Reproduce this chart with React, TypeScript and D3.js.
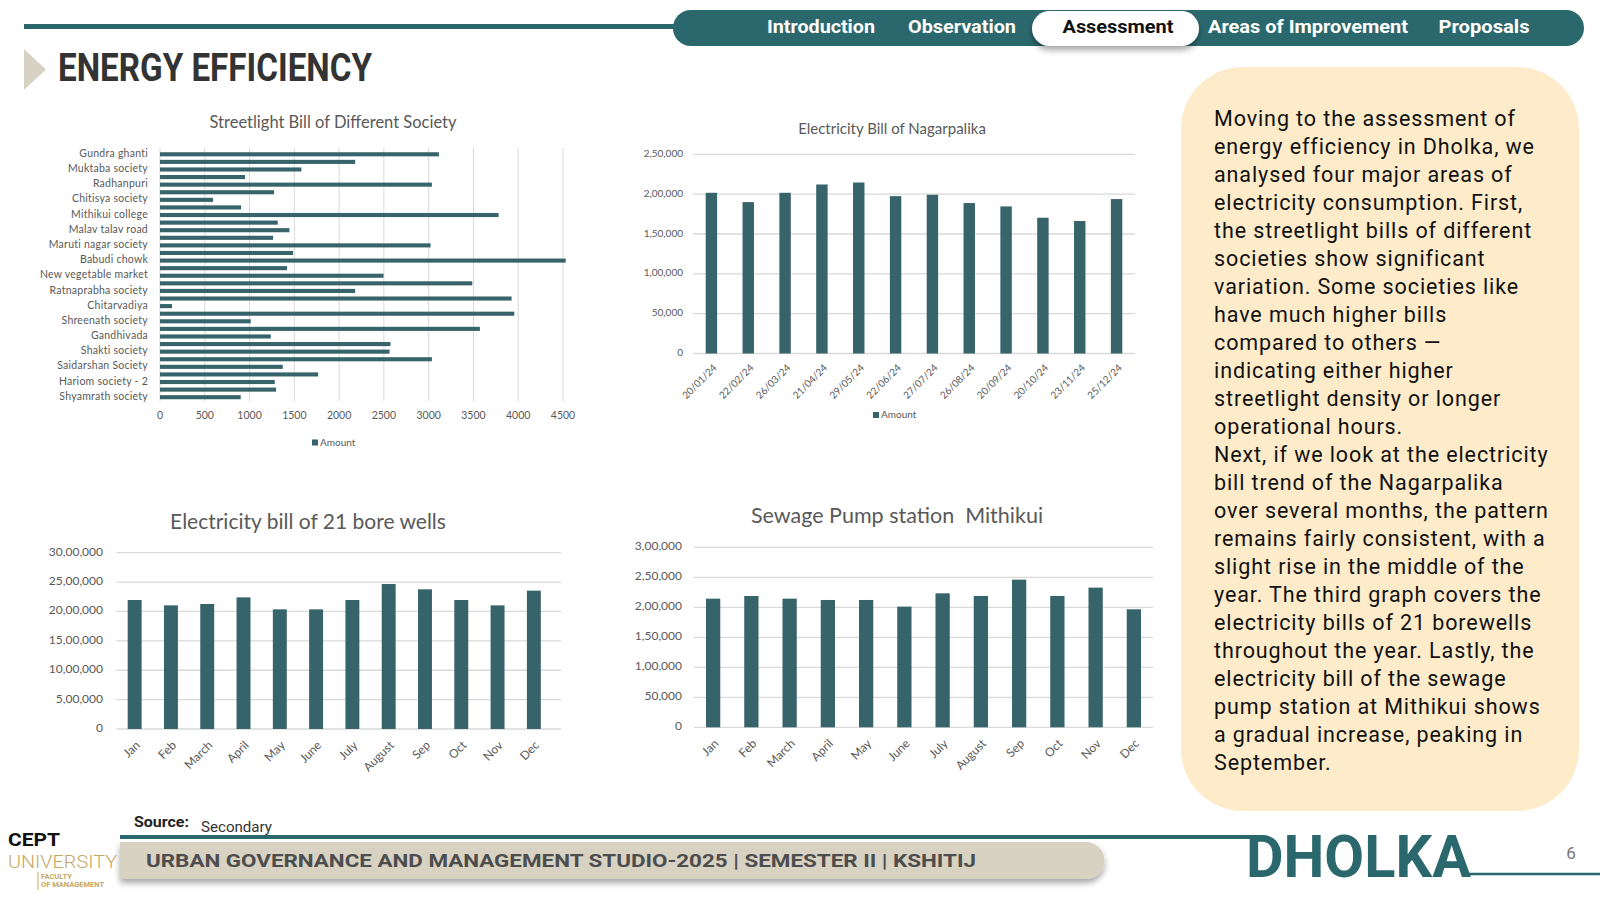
import * as d3 from "d3";
import React from "react";

// ---- data ----
const streetLabels = [
  "Gundra ghanti", "", "Muktaba society", "", "Radhanpuri", "", "Chitisya society", "",
  "Mithikui college", "", "Malav talav road", "", "Maruti nagar society", "", "Babudi chowk", "",
  "New vegetable market", "", "Ratnaprabha society", "", "Chitarvadiya", "", "Shreenath society", "",
  "Gandhivada", "", "Shakti society", "", "Saidarshan Society", "", "Hariom society - 2", "",
  "Shyamrath society",
];
const streetValues = [
  3114, 2179, 1579, 950, 3036, 1274, 592, 905, 3781, 1315, 1445, 1263, 3021, 1486, 4530, 1419,
  2496, 3487, 2179, 3926, 134, 3956, 1013, 3572, 1237, 2574, 2563, 3036, 1371, 1766, 1281, 1296, 901,
];
const streetTicks = [0, 500, 1000, 1500, 2000, 2500, 3000, 3500, 4000, 4500];

const nagarDates = [
  "20/01/24", "22/02/24", "26/03/24", "21/04/24", "29/05/24", "22/06/24",
  "27/07/24", "26/08/24", "20/09/24", "20/10/24", "23/11/24", "25/12/24",
];
const nagarValues = [201700, 190000, 201700, 212100, 214600, 197500, 199200, 188800, 184600, 170400, 166300, 193800];
const nagarTicks = [0, 50000, 100000, 150000, 200000, 250000];

const months = ["Jan", "Feb", "March", "April", "May", "June", "July", "August", "Sep", "Oct", "Nov", "Dec"];
const boreValues = [2195000, 2104000, 2127000, 2240000, 2036000, 2036000, 2195000, 2467000, 2377000, 2195000, 2104000, 2354000];
const boreTicks = [0, 500000, 1000000, 1500000, 2000000, 2500000, 3000000];

const sewageValues = [214400, 218900, 214400, 212200, 212200, 201100, 223300, 218900, 246100, 218900, 232800, 196700];
const sewageTicks = [0, 50000, 100000, 150000, 200000, 250000, 300000];

const navItems = ["Introduction", "Observation", "Assessment", "Areas of Improvement", "Proposals"];

const sideLines = [
  "Moving to the assessment of",
  "energy efficiency in Dholka, we",
  "analysed four major areas of",
  "electricity consumption. First,",
  "the streetlight bills of different",
  "societies show significant",
  "variation. Some societies like",
  "have much higher bills",
  "compared to others \u2014",
  "indicating either higher",
  "streetlight density or longer",
  "operational hours.",
  "Next, if we look at the electricity",
  "bill trend of the Nagarpalika",
  "over several months, the pattern",
  "remains fairly consistent, with a",
  "slight rise in the middle of the",
  "year. The third graph covers the",
  "electricity bills of 21 borewells",
  "throughout the year. Lastly, the",
  "electricity bill of the sewage",
  "pump station at Mithikui shows",
  "a gradual increase, peaking in",
  "September.",
];

const TEAL = "#2b686d";
const BAR = "#37646a";
const GRID = "#d9d9d9";
const TXT = "#595959";
const CHART_FONT = "Lato, 'Open Sans', sans-serif";

// indian digit grouping: 2,50,000 / 30,00,000
function fmtIN(v: number) {
  const s = Math.round(v).toString();
  if (s.length <= 3) return s;
  const rest = s.slice(0, -3).replace(/\B(?=(\d{2})+(?!\d))/g, ",");
  return rest + "," + s.slice(-3);
}

function StreetChart() {
  const x = d3.scaleLinear().domain([0, 4500]).range([160, 563]);
  const y = d3.scaleBand<number>().domain(d3.range(streetValues.length)).range([150.5, 401]).paddingInner(0.46).paddingOuter(0.23);
  return (
    <g fontFamily={CHART_FONT} fill={TXT}>
      <text x={333} y={123.5} fontSize={16.5} textAnchor="middle" dominantBaseline="middle">
        Streetlight Bill of Different Society
      </text>
      {streetTicks.map(t => (
        <g key={t}>
          <line x1={x(t)} x2={x(t)} y1={148} y2={401} stroke={GRID} strokeWidth={1} />
          <text x={x(t)} y={416} fontSize={10.5} textAnchor="middle" dominantBaseline="middle">{t}</text>
        </g>
      ))}
      {streetValues.map((v, i) => (
        <rect key={i} x={x(0)} y={y(i)} width={x(v) - x(0)} height={y.bandwidth()} fill={BAR} />
      ))}
      {streetLabels.map((l, i) => l ? (
        <text key={i} x={148} y={y(i)! + y.bandwidth() / 2} fontSize={10.5} letterSpacing={0.25} textAnchor="end" dominantBaseline="middle">{l}</text>
      ) : null)}
      <rect x={312} y={439.5} width={6} height={6} fill={BAR} />
      <text x={320} y={443} fontSize={10} dominantBaseline="middle">Amount</text>
    </g>
  );
}

function ColumnChart({
  title, titleX, titleY, titleSize, labels, values, ticks, x0, x1, gridX1, yBase, yTop, pad, tickRight, tickSize, labelSize, legendX, legendY,
}: {
  title: string; titleX: number; titleY: number; titleSize: number;
  labels: string[]; values: number[]; ticks: number[];
  x0: number; x1: number; gridX1: number; yBase: number; yTop: number; pad: number;
  tickRight: number; tickSize: number; labelSize: number; legendX?: number; legendY?: number;
}) {
  const x = d3.scaleBand<string>().domain(labels).range([x0, x1]).paddingInner(pad).paddingOuter(pad / 2);
  const y = d3.scaleLinear().domain([0, ticks[ticks.length - 1]]).range([yBase, yTop]);
  return (
    <g fontFamily={CHART_FONT} fill={TXT}>
      <text x={titleX} y={titleY} fontSize={titleSize} textAnchor="middle" dominantBaseline="middle"
        style={{ whiteSpace: "pre" }}>{title}</text>
      {ticks.map(t => (
        <g key={t}>
          <line x1={x0} x2={gridX1} y1={y(t)} y2={y(t)} stroke={GRID} strokeWidth={1.3} />
          <text x={tickRight} y={y(t)} fontSize={tickSize} textAnchor="end" dominantBaseline="middle">{fmtIN(t)}</text>
        </g>
      ))}
      {values.map((v, i) => (
        <rect key={i} x={x(labels[i])} y={y(v)} width={x.bandwidth()} height={y(0) - y(v)} fill={BAR} />
      ))}
      {labels.map(l => {
        const cx = x(l)! + x.bandwidth() / 2;
        return (
          <text key={l} fontSize={labelSize} textAnchor="end"
            transform={`translate(${cx + 6},${yBase + labelSize + 5}) rotate(-45)`}>{l}</text>
        );
      })}
      {legendX !== undefined && legendY !== undefined && (
        <g>
          <rect x={legendX} y={legendY - 3} width={6} height={6} fill={BAR} />
          <text x={legendX + 8} y={legendY} fontSize={10} dominantBaseline="middle">Amount</text>
        </g>
      )}
    </g>
  );
}

function Header() {
  const navX = [821, 962, 1118, 1308, 1484];
  const navW = [108, 108, 111, 200, 91];
  return (
    <g fontFamily="Roboto, sans-serif">
      <line x1={24} x2={680} y1={26.5} y2={26.5} stroke={TEAL} strokeWidth={5} />
      <rect x={673} y={10} width={911} height={36} rx={18} fill={TEAL} />
      <rect x={1032} y={11} width={167} height={35} rx={17.5} fill="#fff" filter="url(#shadow)" />
      {navItems.map((n, i) => (
        <text key={n} x={navX[i]} y={28} fontSize={19} fontWeight={700} textAnchor="middle" dominantBaseline="middle"
          fill={i === 2 ? "#111" : "#fff"} textLength={navW[i]} lengthAdjust="spacingAndGlyphs">{n}</text>
      ))}
      <path d="M24,49 L46,69.5 L24,90 Z" fill="#d8d2c5" />
      <text x={58} y={81} fontSize={38} fontWeight={700} fill="#333" textLength={314} lengthAdjust="spacingAndGlyphs">
        ENERGY EFFICIENCY
      </text>
    </g>
  );
}

function Sidebar() {
  return (
    <g>
      <rect x={1181} y={67} width={398} height={744} rx={62} fill="#fdebc9" />
      <text fontFamily="Roboto, sans-serif" fontSize={21.5} fill="#111" letterSpacing={0.9}>
        {sideLines.map((l, i) => (
          <tspan key={i} x={1214} y={126 + i * 28}>{l}</tspan>
        ))}
      </text>
    </g>
  );
}

function Footer() {
  return (
    <g fontFamily="Roboto, sans-serif">
      <text x={134} y={827} fontSize={14.5} fontWeight={700} fill="#222" textLength={55} lengthAdjust="spacingAndGlyphs">Source:</text>
      <text x={201} y={832} fontSize={14} fill="#333" textLength={71} lengthAdjust="spacingAndGlyphs">Secondary</text>
      <line x1={120} x2={1256} y1={837} y2={837} stroke={TEAL} strokeWidth={4} />
      <path d="M120,842 H1086 A18.5,18.5 0 0 1 1086,879 H120 Z" fill="#d8d2c3" filter="url(#shadow)" />
      <text x={146} y={867} fontSize={18} fontWeight={700} fill="#4d4d4d" textLength={830} lengthAdjust="spacingAndGlyphs">
        URBAN GOVERNANCE AND MANAGEMENT STUDIO-2025 | SEMESTER II | KSHITIJ
      </text>
      <text x={1246} y={877} fontSize={60} fontWeight={700} fill={TEAL} textLength={225} lengthAdjust="spacingAndGlyphs">DHOLKA</text>
      <line x1={1462} x2={1600} y1={874} y2={874} stroke={TEAL} strokeWidth={2.5} />
      <text x={1571} y={859} fontSize={17} fill="#777" textAnchor="middle">6</text>
      {/* logo */}
      <text x={8} y={846} fontSize={19} fontWeight={700} fill="#111" textLength={52} lengthAdjust="spacingAndGlyphs">CEPT</text>
      <text x={8} y={868} fontSize={18} fontWeight={300} fill="#c4a862" textLength={109} lengthAdjust="spacingAndGlyphs">UNIVERSITY</text>
      <line x1={38} x2={38} y1={872} y2={890} stroke="#c4a862" strokeWidth={1} />
      <text x={41} y={879} fontSize={7.5} fontWeight={700} fill="#c4a862">FACULTY</text>
      <text x={41} y={887} fontSize={7.5} fontWeight={700} fill="#c4a862">OF MANAGEMENT</text>
    </g>
  );
}

export default function App() {
  return (
    <div style={{ position: "absolute", left: 0, top: 0, width: 1600, height: 900, background: "#fff" }}>
      <svg width={1600} height={900} viewBox="0 0 1600 900">
        <defs>
          <filter id="shadow" x="-10%" y="-30%" width="120%" height="180%">
            <feDropShadow dx={0} dy={4} stdDeviation={3} floodColor="#000" floodOpacity={0.35} />
          </filter>
        </defs>
        <rect width={1600} height={900} fill="#fff" />
        <Header />
        <StreetChart />
        <ColumnChart title="Electricity Bill of Nagarpalika" titleX={892} titleY={130} titleSize={15}
          labels={nagarDates} values={nagarValues} ticks={nagarTicks}
          x0={693} x1={1135} gridX1={1135} yBase={353.5} yTop={154.3} pad={0.69}
          tickRight={683} tickSize={10} labelSize={10} legendX={873} legendY={415} />
        <ColumnChart title="Electricity bill of 21 bore wells" titleX={308} titleY={524} titleSize={21}
          labels={months} values={boreValues} ticks={boreTicks}
          x0={116.5} x1={552} gridX1={561} yBase={729} yTop={552.7} pad={0.616}
          tickRight={103} tickSize={12} labelSize={12} />
        <ColumnChart title={"Sewage Pump station  Mithikui"} titleX={897} titleY={518} titleSize={21.5}
          labels={months} values={sewageValues} ticks={sewageTicks}
          x0={694} x1={1153} gridX1={1153} yBase={727.3} yTop={547.3} pad={0.627}
          tickRight={682} tickSize={12} labelSize={12} />
        <Sidebar />
        <Footer />
      </svg>
    </div>
  );
}
